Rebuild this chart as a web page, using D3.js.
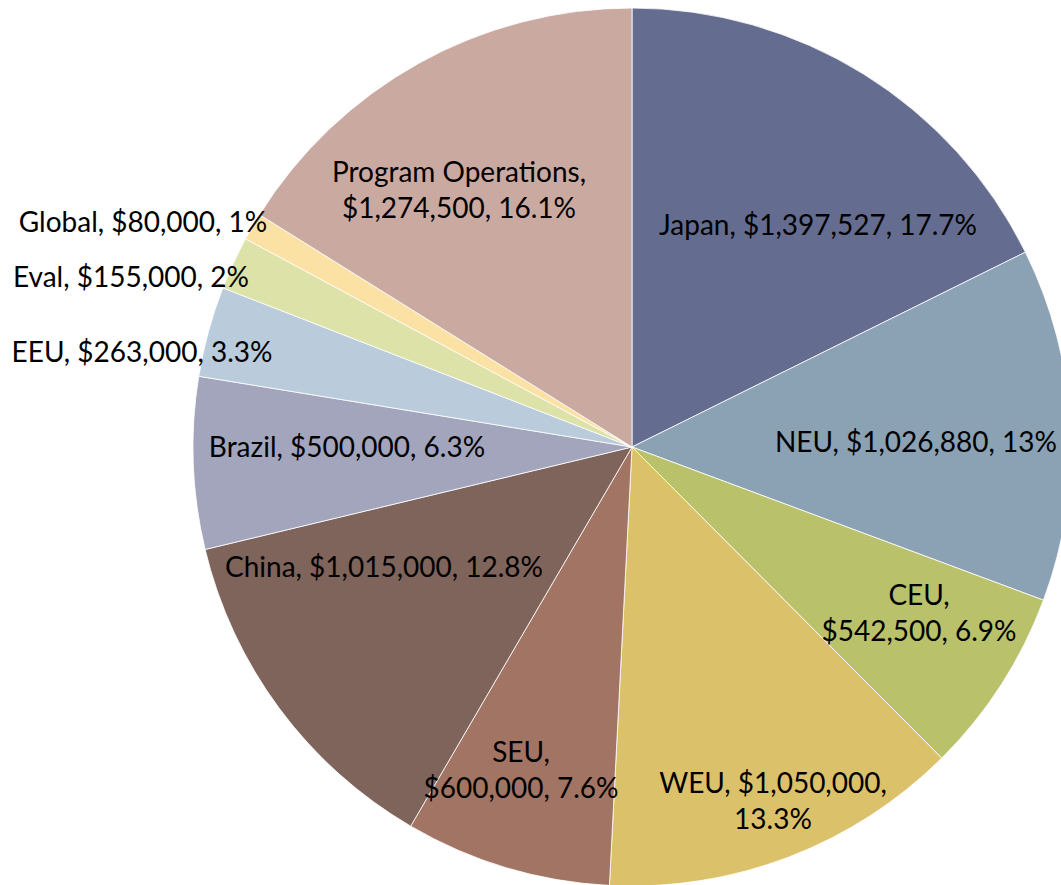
<!DOCTYPE html>
<html>
<head>
<meta charset="utf-8">
<script src="https://cdn.jsdelivr.net/npm/d3@7"></script>
<style>
  body { margin: 0; background: #fff; }
  svg text { font-family: Lato, "Open Sans", sans-serif; fill: #000; }
</style>
</head>
<body>
<div class="chart"></div>
<script>

// Data
//
var regions = ["Japan", "NEU", "CEU", "WEU", "SEU", "China", "Brazil", "EEU", "Eval", "Global", "Program Operations"];
var amounts = [1397527, 1026880, 542500, 1050000, 600000, 1015000, 500000, 263000, 155000, 80000, 1274500];
var colors  = ["#646c8f", "#8ba1b4", "#b9c16b", "#dcc16b", "#a27463", "#7e645b", "#a2a5bc", "#bacbdb", "#dde2a8", "#fbe2a4", "#caa9a1"];

// where Excel put each label (centre x, first baseline y) and how it wraps
var labelX     = [818, 916, 919, 773, 521, 384, 347, 142, 131, 143, 459];
var labelY     = [235, 452, 605, 793, 762, 577, 457, 362, 287, 232, 182];
var labelBreak = [0, 0, 1, 2, 1, 0, 0, 0, 0, 0, 1];

var width = 1061,
    height = 885,
    cx = 632, cy = 447,
    radius = 439,
    lineGap = 36;

var data = regions.map(function(r, i) {
	return {name: r, value: amounts[i], color: colors[i], lx: labelX[i], ly: labelY[i], brk: labelBreak[i]};
});

var total = d3.sum(amounts);
var fmtMoney = d3.format("$,");
var fmtPct = function(v) {
	var p = Math.round(v / total * 1000) / 10;
	return p + "%";
}

var svg = d3.select(".chart")
	.append("svg")
	.attr("width", width)
	.attr("height", height)

var g = svg.append("g")
	.attr("transform", "translate(" + cx + "," + cy + ")")

var pie = d3.pie()
	.sort(null)
	.value(function(d) { return d.value; })

var arc = d3.arc()
	.innerRadius(0)
	.outerRadius(radius)

g.selectAll(".slice")
	.data(pie(data))
	.enter().append("path")
	.attr("class", "slice")
	.attr("d", arc)
	.attr("fill", function(d) { return d.data.color; })
	.attr("stroke", "#fff")
	.attr("stroke-width", 0.8)

// labels, broken into lines the same way as the original
function labelLines(d) {
	var parts = [d.name + ",", fmtMoney(d.value) + ",", fmtPct(d.value)];
	if (d.brk == 1) return [parts[0], parts[1] + " " + parts[2]];
	if (d.brk == 2) return [parts[0] + " " + parts[1], parts[2]];
	return [parts.join(" ")];
}

var labels = svg.selectAll(".lbl")
	.data(data)
	.enter().append("text")
	.attr("class", "lbl")
	.attr("text-anchor", "middle")
	.attr("font-size", 28)

labels.selectAll("tspan")
	.data(function(d) { return labelLines(d).map(function(t) { return {t: t, d: d}; }); })
	.enter().append("tspan")
	.attr("x", function(s) { return s.d.lx; })
	.attr("y", function(s, i) { return s.d.ly + i * lineGap; })
	.text(function(s) { return s.t; })

</script>
</body>
</html>
